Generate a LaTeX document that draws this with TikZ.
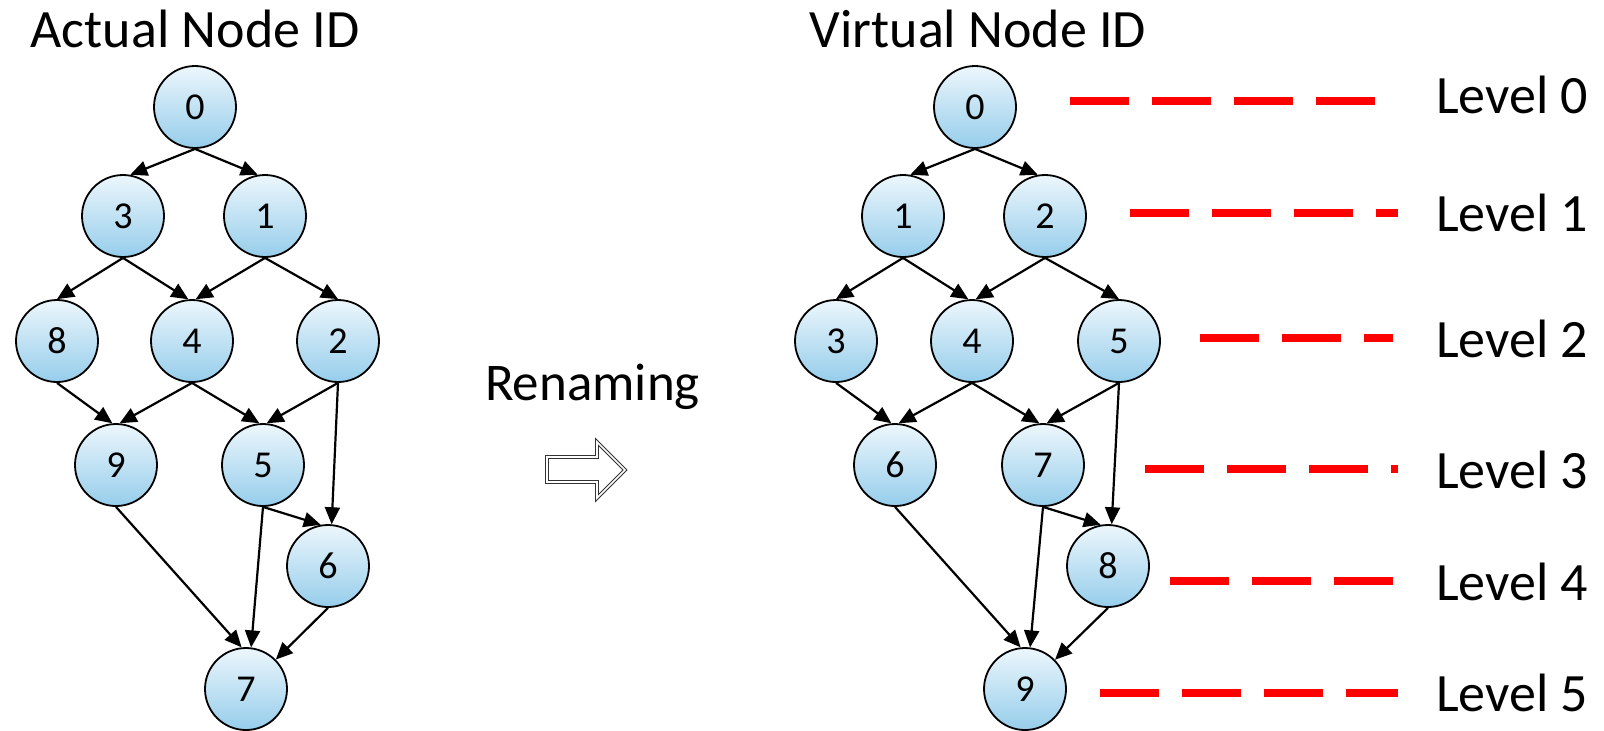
\documentclass[tikz,border=0pt]{standalone}
\usepackage{fontspec}
\setmainfont{Carlito}
\usetikzlibrary{arrows.meta}
\definecolor{nodetop}{RGB}{236,246,252}
\definecolor{nodebot}{RGB}{150,205,235}
\tikzset{
  idnode/.style={circle, draw=black, line width=0.9pt, minimum size=41pt, inner sep=0pt,
    top color=nodetop, bottom color=nodebot, font=\fontsize{19}{19}\selectfont},
  depedge/.style={-{Triangle[length=8.5pt,width=7.5pt]}, line width=1.1pt},
  levelline/.style={red, line width=4pt, dash pattern=on 29.5pt off 11.5pt},
  lvltext/.style={anchor=base west, font=\fontsize{27}{27}\selectfont},
  title/.style={anchor=base, font=\fontsize{27}{27}\selectfont}
}
\begin{document}
\begin{tikzpicture}[x=0.5pt, y=-0.5pt]
\useasboundingbox (0,0) rectangle (1604,730);
% actual ids
\node[title] (atitle) at (195,47) {Actual Node ID};
\node[idnode] (a0) at (195,107) {0};
\node[idnode] (a3) at (123,216) {3};
\node[idnode] (a1) at (265,216) {1};
\node[idnode] (a8) at (57,341)  {8};
\node[idnode] (a4) at (192,341) {4};
\node[idnode] (a2) at (338,341) {2};
\node[idnode] (a9) at (116,465) {9};
\node[idnode] (a5) at (263,465) {5};
\node[idnode] (a6) at (328,566) {6};
\node[idnode] (a7) at (246,689) {7};
\draw[depedge] (a0.south) -- (a3.80);
\draw[depedge] (a0.south) -- (a1.100);
\draw[depedge] (a3.south) -- (a8.north);
\draw[depedge] (a3.south) -- (a4.95);
\draw[depedge] (a1.south) -- (a4.85);
\draw[depedge] (a1.south) -- (a2.north);
\draw[depedge] (a8.south) -- (a9.95);
\draw[depedge] (a4.south) -- (a9.85);
\draw[depedge] (a4.south) -- (a5.95);
\draw[depedge] (a2.south) -- (a5.85);
\draw[depedge] (a2.south) -- (a6.85);
\draw[depedge] (a5.south) -- (a6.100);
\draw[depedge] (a9.south) -- (a7.96);
\draw[depedge] (a5.south) -- (a7.83);
\draw[depedge] (a6.south) -- (a7);
% renaming
\node[anchor=base west, font=\fontsize{26.5}{27}\selectfont] (ren) at (478,400) {Renaming};
\draw[draw=black!80, line width=0.55pt, double=white, double distance=0.8pt]
  (547,457) -- (597,457) -- (597,442) -- (625,470) -- (597,498) -- (597,482) -- (547,482) -- cycle;
% virtual ids
\node[title] (vtitle) at (978,47) {Virtual Node ID};
\node[idnode] (v0) at (975,107)  {0};
\node[idnode] (v1) at (903,216)  {1};
\node[idnode] (v2) at (1045,216) {2};
\node[idnode] (v3) at (836,341)  {3};
\node[idnode] (v4) at (972,341)  {4};
\node[idnode] (v5) at (1119,341) {5};
\node[idnode] (v6) at (895,465)  {6};
\node[idnode] (v7) at (1043,465) {7};
\node[idnode] (v8) at (1108,566) {8};
\node[idnode] (v9) at (1025,689) {9};
\draw[depedge] (v0.south) -- (v1.80);
\draw[depedge] (v0.south) -- (v2.100);
\draw[depedge] (v1.south) -- (v3.north);
\draw[depedge] (v1.south) -- (v4.95);
\draw[depedge] (v2.south) -- (v4.85);
\draw[depedge] (v2.south) -- (v5.north);
\draw[depedge] (v3.south) -- (v6.95);
\draw[depedge] (v4.south) -- (v6.85);
\draw[depedge] (v4.south) -- (v7.95);
\draw[depedge] (v5.south) -- (v7.85);
\draw[depedge] (v5.south) -- (v8.85);
\draw[depedge] (v7.south) -- (v8.100);
\draw[depedge] (v6.south) -- (v9.96);
\draw[depedge] (v7.south) -- (v9.83);
\draw[depedge] (v8.south) -- (v9);
% levels
\draw[levelline] (1070,101) -- (1376,101);
\draw[levelline] (1130,213) -- (1398,213);
\draw[levelline] (1200,338) -- (1393,338);
\draw[levelline] (1145,469) -- (1398,469);
\draw[levelline] (1170,581) -- (1393,581);
\draw[levelline] (1100,693) -- (1398,693);
\node[lvltext] (l0) at (1429,113) {Level 0};
\node[lvltext] (l1) at (1429,231) {Level 1};
\node[lvltext] (l2) at (1429,357) {Level 2};
\node[lvltext] (l3) at (1429,488) {Level 3};
\node[lvltext] (l4) at (1429,600) {Level 4};
\node[lvltext] (l5) at (1429,711) {Level 5};
\end{tikzpicture}
\end{document}
